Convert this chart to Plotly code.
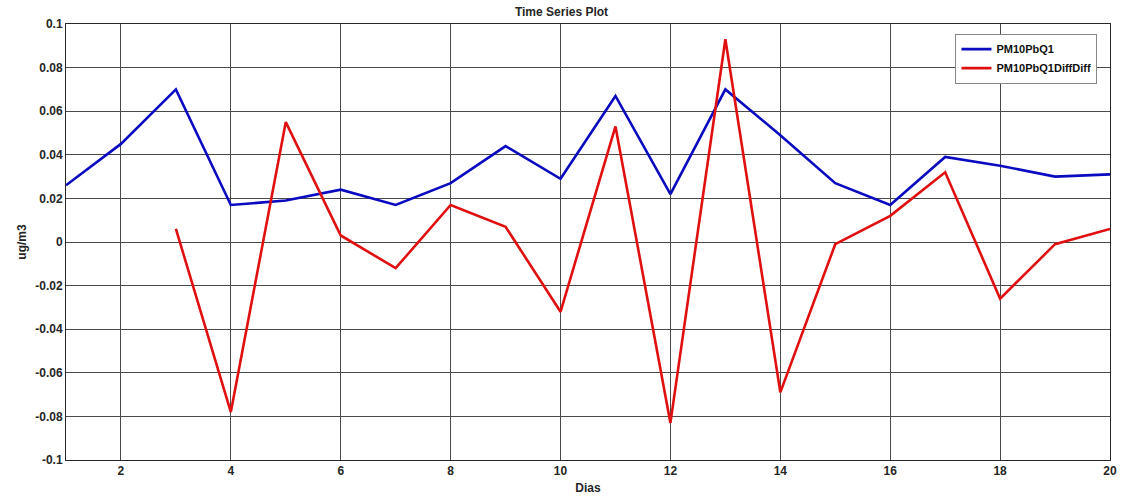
import plotly.graph_objects as go

dias = list(range(1, 21))
pm10 = [0.026, 0.045, 0.070, 0.017, 0.019, 0.024, 0.017, 0.027, 0.044, 0.029,
        0.067, 0.022, 0.070, 0.049, 0.027, 0.017, 0.039, 0.035, 0.030, 0.031]
pm10_diffdiff = [None, None, 0.006, -0.078, 0.055, 0.003, -0.012, 0.017, 0.007, -0.032,
                 0.053, -0.083, 0.093, -0.069, -0.001, 0.012, 0.032, -0.026, -0.001, 0.006]

x_ticks = [2, 4, 6, 8, 10, 12, 14, 16, 18, 20]
y_ticks = [-0.1, -0.08, -0.06, -0.04, -0.02, 0, 0.02, 0.04, 0.06, 0.08, 0.1]
y_ticklabels = ["-0.1", "-0.08", "-0.06", "-0.04", "-0.02", "0", "0.02", "0.04", "0.06", "0.08", "0.1"]

font_family = "Liberation Sans, Arial, sans-serif"

fig = go.Figure()
fig.add_trace(go.Scatter(x=dias, y=pm10, mode="lines", name="<b>PM10PbQ1</b>",
                         line=dict(color="#0a0ac0", width=2.6)))
fig.add_trace(go.Scatter(x=dias, y=pm10_diffdiff, mode="lines", name="<b>PM10PbQ1DiffDiff</b>",
                         line=dict(color="#e01010", width=2.6)))

fig.update_layout(
    width=1123, height=498,
    margin=dict(l=66, r=13, t=24, b=38, autoexpand=False),
    paper_bgcolor="white", plot_bgcolor="white",
    font=dict(family=font_family, color="#262626", size=12),
    title=dict(text="<b>Time Series Plot</b>", x=0.5, xanchor="center",
               y=0.985, yanchor="top", font=dict(size=12, color="#262626")),
    showlegend=True,
    legend=dict(x=0.988, y=0.978, xanchor="right", yanchor="top",
                bgcolor="white", bordercolor="#888", borderwidth=1,
                font=dict(size=11, color="#111"), tracegroupgap=0,
                itemwidth=30),
)
fig.update_xaxes(range=[1, 20], tickvals=x_ticks, ticktext=[f"<b>{v}</b>" for v in x_ticks],
                 showgrid=True, gridcolor="#4a4a4a", gridwidth=1, automargin=False,
                 showline=True, linecolor="#262626", linewidth=1, mirror=True,
                 ticks="", zeroline=False, tickfont=dict(size=12),
                 title=dict(text="<b>Dias</b>", font=dict(size=12), standoff=6))
fig.update_yaxes(range=[-0.1, 0.1], tickvals=y_ticks,
                 ticktext=[f"<b>{t}</b>" for t in y_ticklabels],
                 showgrid=True, gridcolor="#4a4a4a", gridwidth=1, automargin=False,
                 showline=True, linecolor="#262626", linewidth=1, mirror=True,
                 ticks="", zeroline=False, tickfont=dict(size=12),
                 title=dict(text="<b>ug/m3</b>", font=dict(size=12), standoff=6))

fig.write_html("out.html")
